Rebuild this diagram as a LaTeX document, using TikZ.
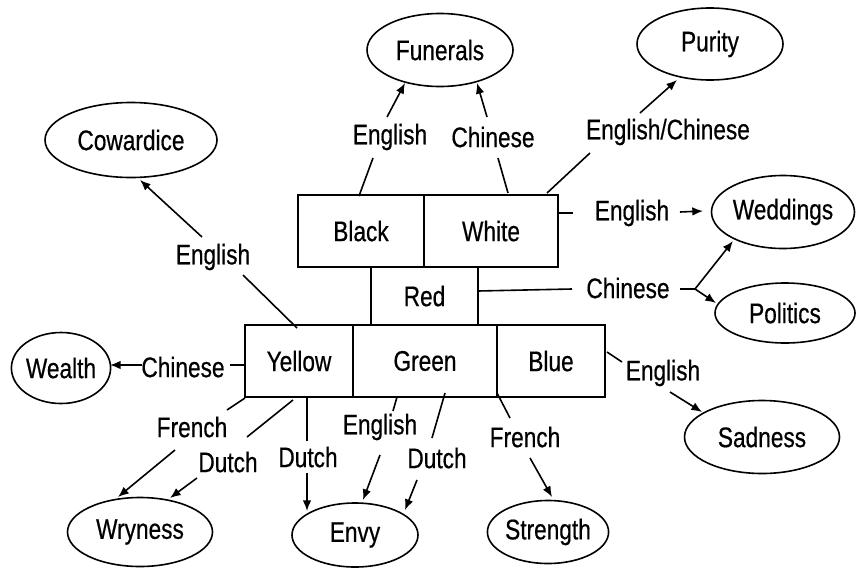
\documentclass[tikz,border=0pt]{standalone}
\usepackage{fontspec}
\setmainfont{Liberation Sans}[FakeBold=0.6]
\usetikzlibrary{shapes.geometric,arrows.meta}
\newcommand{\lbl}[1]{\scalebox{1}[1.25]{#1}}
\tikzset{
  txt/.style={font=\fontsize{17}{20}\selectfont, inner sep=1pt},
  cell/.style 2 args={draw, line width=1.4pt, rectangle, inner sep=0pt, minimum width=#1*0.75pt, minimum height=#2*0.75pt, font=\fontsize{17}{20}\selectfont},
  oval/.style 2 args={draw, line width=1.2pt, ellipse, inner sep=0pt, minimum width=#1*0.75pt, minimum height=#2*0.75pt, font=\fontsize{17}{20}\selectfont},
  conn/.style={line width=1.2pt},
  arr/.style={line width=1.2pt, -{Latex[length=8pt,width=6.5pt]}}
}
\begin{document}
\begin{tikzpicture}[x=0.75pt,y=-0.75pt]
\useasboundingbox (0,0) rectangle (856,568);
% boxes
\node[cell={126}{72}] (black) at (361,231) {\lbl{Black}};
\node[cell={134}{72}] (white) at (491,231) {\lbl{White}};
\node[cell={107}{58}] (red) at (424.5,296) {\lbl{Red}};
\node[cell={108}{72}] (yellow) at (299,361) {\lbl{Yellow}};
\node[cell={144}{72}] (green) at (425,361) {\lbl{Green}};
\node[cell={108}{72}] (blue) at (551,361) {\lbl{Blue}};
% ellipses
\node[oval={146}{73}] (fun) at (440,50) {\lbl{Funerals}};
\node[oval={146}{72}] (pur) at (710,44) {\lbl{Purity}};
\node[oval={172}{75}] (cow) at (131,140) {\lbl{Cowardice}};
\node[oval={143}{73}] (wed) at (783,212) {\lbl{Weddings}};
\node[oval={140}{60}] (pol) at (785,313) {\lbl{Politics}};
\node[oval={98}{71}] (wea) at (61,368) {\lbl{Wealth}};
\node[oval={155}{73}] (sad) at (762,437) {\lbl{Sadness}};
\node[oval={145}{69}] (wry) at (140,532) {\lbl{Wryness}};
\node[oval={126}{64}] (env) at (355,535) {\lbl{Envy}};
\node[oval={120}{63}] (str) at (548,532) {\lbl{Strength}};
% labels
\node[txt] (lE1) at (390,137) {\lbl{English}};
\node[txt] (lC1) at (493,137) {\lbl{Chinese}};
\node[txt] (lEC) at (668,132) {\lbl{English/Chinese}};
\node[txt] (lE2) at (632,213) {\lbl{English}};
\node[txt] (lC2) at (628,288) {\lbl{Chinese}};
\node[txt] (lE3) at (213,257) {\lbl{English}};
\node[txt] (lC3) at (183,367) {\lbl{Chinese}};
\node[txt] (lF1) at (192,427) {\lbl{French}};
\node[txt] (lD1) at (228,462) {\lbl{Dutch}};
\node[txt] (lD2) at (308,457) {\lbl{Dutch}};
\node[txt] (lE4) at (380,427) {\lbl{English}};
\node[txt] (lD3) at (437,458) {\lbl{Dutch}};
\node[txt] (lF2) at (525,437) {\lbl{French}};
\node[txt] (lE5) at (663,373) {\lbl{English}};
\coordinate (fork) at (695,289);
% connectors
\draw[conn] ([shift={(-2,-35)}]black.center) -- ([shift={(-17,21)}]lE1.center);
\draw[arr] ([shift={(-3,-20)}]lE1.center) -- ([shift={(-35,33)}]fun.center);
\draw[conn] ([shift={(17,-38)}]white.center) -- ([shift={(5,21)}]lC1.center);
\draw[arr] ([shift={(-6,-20)}]lC1.center) -- ([shift={(37,33)}]fun.center);
\draw[conn] ([shift={(56,-38)}]white.center) -- ([shift={(-78,21)}]lEC.center);
\draw[arr] ([shift={(-28,-19)}]lEC.center) -- ([shift={(-33,36)}]pur.center);
\draw[conn] ([shift={(67,-18)}]white.center) -- ([shift={(-59,0)}]lE2.center);
\draw[arr] ([shift={(48,-1)}]lE2.center) -- ([shift={(-80,-1)}]wed.center);
\draw[conn] ([shift={(53.5,-5)}]red.center) -- ([shift={(-56,1)}]lC2.center);
\draw[conn] ([shift={(52,1)}]lC2.center) -- (fork);
\draw[arr] (fork) -- ([shift={(-50,29)}]wed.center);
\draw[arr] (fork) -- ([shift={(-69,-10)}]pol.center);
\draw[conn] ([shift={(56,-9)}]blue.center) -- ([shift={(-41,-11)}]lE5.center);
\draw[arr] ([shift={(7,19)}]lE5.center) -- ([shift={(-60,-25)}]sad.center);
\draw[conn] ([shift={(72,32)}]green.center) -- ([shift={(-15,-19)}]lF2.center);
\draw[arr] ([shift={(5,21)}]lF2.center) -- ([shift={(4,-35)}]str.center);
\draw[conn] ([shift={(20,32)}]green.center) -- ([shift={(-5,-20)}]lD3.center);
\draw[arr] ([shift={(-20,22)}]lD3.center) -- ([shift={(50,-25)}]env.center);
\draw[conn] ([shift={(-28,36)}]green.center) -- ([shift={(13,-16)}]lE4.center);
\draw[arr] ([shift={(0,28)}]lE4.center) -- ([shift={(8,-35)}]env.center);
\draw[conn] ([shift={(8,37)}]yellow.center) -- ([shift={(-1,-16)}]lD2.center);
\draw[arr] ([shift={(-1,16)}]lD2.center) -- ([shift={(-48,-24)}]env.center);
\draw[conn] ([shift={(-6,39)}]yellow.center) -- ([shift={(19,-25)}]lD1.center);
\draw[arr] ([shift={(-31,16)}]lD1.center) -- ([shift={(30,-34)}]wry.center);
\draw[conn] ([shift={(-54,37)}]yellow.center) -- ([shift={(35,-17)}]lF1.center);
\draw[arr] ([shift={(-17,23)}]lF1.center) -- ([shift={(-22,-35)}]wry.center);
\draw[conn] ([shift={(47,-2)}]lC3.center) -- ([shift={(-54,4)}]yellow.center);
\draw[arr] ([shift={(-41,-2)}]lC3.center) -- ([shift={(49,-3)}]wea.center);
\draw[conn] ([shift={(-2,-33)}]yellow.center) -- ([shift={(30,18)}]lE3.center);
\draw[arr] ([shift={(-11,-20)}]lE3.center) -- ([shift={(9,40)}]cow.center);
\end{tikzpicture}
\end{document}
